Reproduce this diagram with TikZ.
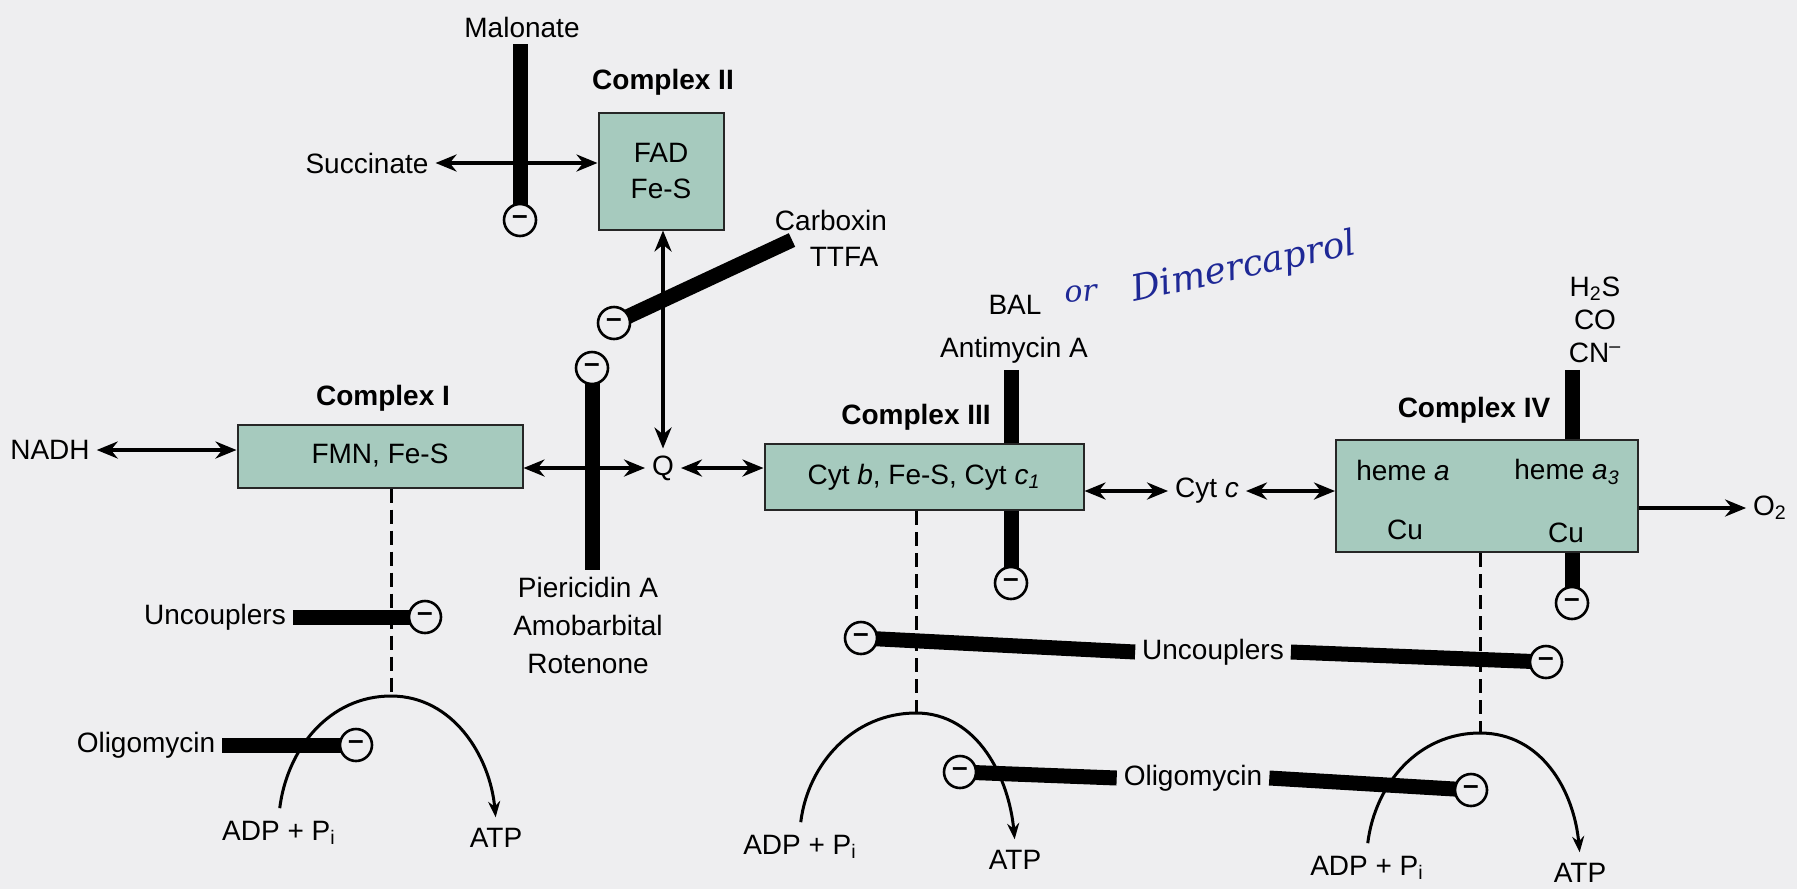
\documentclass[tikz,border=0pt]{standalone}
\usepackage{fontspec}
\setmainfont{Liberation Sans}
\newfontfamily\handfont{DejaVu Serif}
\usetikzlibrary{arrows.meta}
\definecolor{paper}{RGB}{238,238,240}
\definecolor{cplx}{RGB}{166,202,190}
\definecolor{inkblue}{RGB}{30,40,150}

\begin{document}
\begin{tikzpicture}[x=0.5pt,y=-0.5pt,font=\fontsize{14}{17}\selectfont,
  cbox/.style={draw=black!85,line width=1pt,fill=cplx},
  lbl/.style={font=\fontsize{14}{17}\selectfont\bfseries},
  blk/.style={line width=7.5pt},
  inh/.style={circle,draw,line width=1.3pt,fill=paper,minimum size=16pt,inner sep=0pt,font=\fontsize{14}{14}\selectfont\bfseries},
  dblarr/.style={{Stealth[length=10.5pt,width=8.5pt]}-{Stealth[length=10.5pt,width=8.5pt]},line width=2pt},
  arr/.style={-{Stealth[length=10.5pt,width=8.5pt]},line width=2pt},
  dsh/.style={line width=1.5pt,dash pattern=on 7pt off 3.5pt},
  synth/.style={-{Stealth[length=8pt,width=6pt]},line width=1.5pt},
  hand/.style={inkblue,font=\handfont\itshape\fontsize{18}{21}\selectfont}]
  \fill[paper] (0,0) rectangle (1797,889); \useasboundingbox (0,0) rectangle (1797,889);

  % upper labels
  \node (malonate) at (522,27) {Malonate};
  \node (succ) at (367,163) {Succinate};
  \node[lbl] (lbl2) at (663,82) {Complex II};
  \node (carbox) at (831,220) {Carboxin}; \node (ttfa) at (844,257) {TTFA};
  \node[lbl] (lbl1) at (383,398) {Complex I};
  \node (nadh) at (50,450) {NADH};
  \node (q) at (663,468) {Q};
  \node[align=center,font=\fontsize{14}{19}\selectfont] (pier) at (588,625) {Piericidin A\\Amobarbital\\Rotenone};
  \node[lbl] (lbl3) at (916,417) {Complex III};
  \node (bal) at (1015,305) {BAL}; \node (anti) at (1014,350) {Antimycin A};
  \node[hand,rotate=4,font=\handfont\itshape\fontsize{15}{18}\selectfont] (noteor) at (1081,294) {or};
  \node[hand,rotate=12] (notedm) at (1244,268) {Dimercaprol};
  \node (cytc) at (1207,491) {Cyt \textit{c}};
  \node[lbl] (lbl4) at (1474,410) {Complex IV};
  \node[align=center,font=\fontsize{14}{16.5}\selectfont] (gases) at (1595,320) {H\textsubscript{2}S\\CO\\CN\textsuperscript{--}};
  \node (o2) at (1770,508) {O\textsubscript{2}};

  % lower labels
  \node (unc1) at (215,617) {Uncouplers}; \node (unc2) at (1213,652) {Uncouplers};
  \node (olig1) at (146,745) {Oligomycin}; \node (olig2) at (1193,778) {Oligomycin};
  \node (adp1) at (279,833) {ADP + P\textsubscript{i}}; \node (atp1) at (496,838) {ATP};
  \node (adp2) at (800,847) {ADP + P\textsubscript{i}}; \node (atp2) at (1015,860) {ATP};
  \node (adp3) at (1367,868) {ADP + P\textsubscript{i}}; \node (atp3) at (1580,873) {ATP};

  % inhibitor ends and arc tops
  \coordinate (m1) at (520,220); \coordinate (m2) at (614,323); \coordinate (m3) at (592,368);
  \coordinate (m4) at (1011,583); \coordinate (m5) at (1572,603);
  \coordinate (m6) at (425,617); \coordinate (m7) at (861,638); \coordinate (m8) at (1546,662);
  \coordinate (m9) at (356,745); \coordinate (m10) at (960,772); \coordinate (m11) at (1471,790);
  \coordinate (cbend) at (792,240);
  \coordinate (t1) at (391,696); \coordinate (t2) at (916,713); \coordinate (t3) at (1480,733);

  % bars behind the complexes
  \draw[blk] (anti.south -| m4) -- (m4); \draw[blk] (gases.south -| m5) -- (m5);

  % complexes
  \node[cbox,minimum width=142.5pt,minimum height=31.5pt] (c1) at (380,456) {FMN, Fe-S};
  \node[cbox,minimum width=62.5pt,minimum height=58.5pt,align=center,font=\fontsize{14}{17.5}\selectfont] (c2) at (661,171) {FAD\\Fe-S};
  \node[cbox,minimum width=159.5pt,minimum height=33pt] (c3) at (924,477) {Cyt \textit{b}, Fe-S, Cyt \textit{c}\textsubscript{\textit{1}}};
  \node[cbox,minimum width=151pt,minimum height=56pt] (c4) at (1487,496) {};
  \node (hemea) at (1403,470) {heme \textit{a}}; \node (hemeb) at (1567,472) {heme \textit{a}\textsubscript{\textit{3}}};
  \node (cua) at (1405,530) {Cu}; \node (cub) at (1566,533) {Cu};

  % electron flow
  \draw[dblarr] (nadh.east) -- (nadh.east -| c1.west);
  \draw[dblarr] (succ.east) -- (succ.east -| c2.west);
  \draw[dblarr] (c2.south -| q.north) -- (q.north);
  \draw[dblarr] (c1.east |- q.west) -- (q.west); \draw[dblarr] (q.east) -- (q.east -| c3.west);
  \draw[dblarr] (cytc.west -| c3.east) -- (cytc.west); \draw[dblarr] (cytc.east) -- (cytc.east -| c4.west);
  \draw[arr] (o2.west -| c4.east) -- (o2.west);

  % coupling to ATP synthesis
  \draw[dsh] (c1.south -| t1) -- (t1); \draw[dsh] (c3.south -| t2) -- (t2); \draw[dsh] (c4.south -| t3) -- (t3);
  \draw[synth,shorten <=3pt,shorten >=2pt] (adp1.north) .. controls +(8,-65) and +(-62,0) .. (t1) .. controls +(62,0) and +(-6,-65) .. (atp1.north);
  \draw[synth,shorten <=3pt,shorten >=2pt] (adp2.north) .. controls +(8,-65) and +(-62,0) .. (t2) .. controls +(62,0) and +(-6,-65) .. (atp2.north);
  \draw[synth,shorten <=3pt,shorten >=2pt] (adp3.north) .. controls +(8,-65) and +(-62,0) .. (t3) .. controls +(62,0) and +(-6,-65) .. (atp3.north);

  % inhibitors
  \draw[blk] (malonate.south -| m1) -- (m1); \draw[blk] (cbend) -- (m2); \draw[blk] (m3) -- (m3 |- pier.north);
  \draw[blk] (unc1.east) -- (m6); \draw[blk] (m7) -- (unc2.west); \draw[blk] (unc2.east) -- (m8);
  \draw[blk] (olig1.east) -- (m9); \draw[blk] (m10) -- (olig2.west); \draw[blk] (olig2.east) -- (m11);
  \foreach \c in {m1,m2,m3,m4,m5,m6,m7,m8,m9,m10,m11} \node[inh] (\c c) at (\c) {--};
\end{tikzpicture}
\end{document}
